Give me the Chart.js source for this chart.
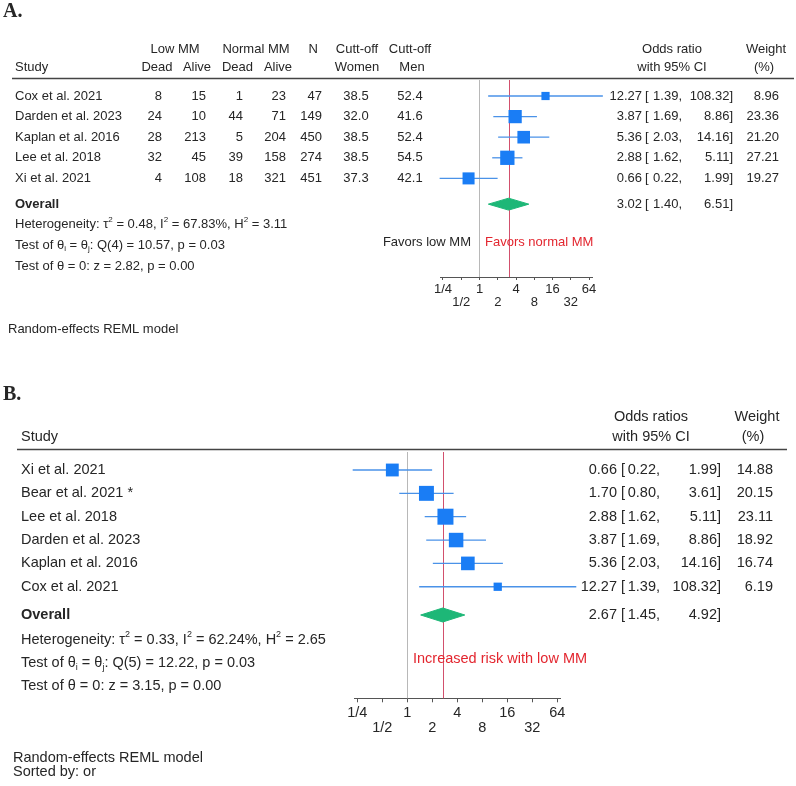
<!DOCTYPE html>
<html>
<head>
<meta charset="utf-8">
<script src="https://cdn.jsdelivr.net/npm/chart.js@4.4.1/dist/chart.umd.min.js"></script>
<style>
  html, body { margin: 0; padding: 0; background: #fff; }
  canvas { display: block; }
</style>
</head>
<body>
<canvas id="chartA" width="796" height="350"></canvas>
<canvas id="chartB" width="796" height="436"></canvas>
<script>
// ---- panel A data ----
const studiesA = ["Cox et al. 2021", "Darden et al. 2023", "Kaplan et al. 2016", "Lee et al. 2018", "Xi et al. 2021"];
const lowDeadA = [8, 24, 28, 32, 4];
const lowAliveA = [15, 10, 213, 45, 108];
const normDeadA = [1, 44, 5, 39, 18];
const normAliveA = [23, 71, 204, 158, 321];
const totalA = [47, 149, 450, 274, 451];
const cutWomenA = ["38.5", "32.0", "38.5", "38.5", "37.3"];
const cutMenA = ["52.4", "41.6", "52.4", "54.5", "42.1"];
const orA = [12.27, 3.87, 5.36, 2.88, 0.66];
const loA = [1.39, 1.69, 2.03, 1.62, 0.22];
const hiA = [108.32, 8.86, 14.16, 5.11, 1.99];
const weightA = [8.96, 23.36, 21.20, 27.21, 19.27];
const overallA = [3.02, 1.40, 6.51];
const hetA = [0.48, 67.83, 3.11];
const qTestA = [4, 10.57, 0.03];
const zTestA = [2.82, 0.00];

// ---- panel B data ----
const studiesB = ["Xi et al. 2021", "Bear et al. 2021 *", "Lee et al. 2018", "Darden et al. 2023", "Kaplan et al. 2016", "Cox et al. 2021"];
const orB = [0.66, 1.70, 2.88, 3.87, 5.36, 12.27];
const loB = [0.22, 0.80, 1.62, 1.69, 2.03, 1.39];
const hiB = [1.99, 3.61, 5.11, 8.86, 14.16, 108.32];
const weightB = [14.88, 20.15, 23.11, 18.92, 16.74, 6.19];
const overallB = [2.67, 1.45, 4.92];
const hetB = [0.33, 62.24, 2.65];
const qTestB = [5, 12.22, 0.03];
const zTestB = [3.15, 0.00];

// shared axis (log2 units)
const tickValues = [-2, -1, 0, 1, 2, 3, 4, 5, 6];
const tickLabels = ["1/4", "1/2", "1", "2", "4", "8", "16", "32", "64"];

const FONT = '"Liberation Sans", Arial, sans-serif';
const TEXT = "#262626";
const BLUE = "#1a7df5";
const CI_BLUE = "#4a92e8";
const GREEN = "#1db777";
const RED_LINE = "#d2506d";
const RED_TEXT = "#e3262f";
const GREY_LINE = "#b8b8b8";
const AXIS = "#555";


function put(ctx, s, x, y, align, font, color) {
    ctx.font = font;
    ctx.fillStyle = color || TEXT;
    ctx.textAlign = align;
    ctx.textBaseline = "middle";
    ctx.fillText(s, x, y);
}


// text with small super/subscripts, left aligned
function rich(ctx, parts, x, y, size) {
    ctx.fillStyle = TEXT;
    ctx.textAlign = "left";
    ctx.textBaseline = "middle";
    let cx = x;
    parts.forEach(p => {
        let s = p, dy = 0, sz = size;
        if (Array.isArray(p)) {
            s = p[0];
            sz = size * 0.62;
            dy = p[1] === "sup" ? -size * 0.38 : size * 0.28;
        }
        ctx.font = sz + "px " + FONT;
        ctx.fillText(s, cx, y + dy);
        cx += ctx.measureText(s).width;
    });
}


function statLines(het, q, z) {
    return [
        ["Heterogeneity: \u03c4", ["2", "sup"], " = " + het[0].toFixed(2) + ", I", ["2", "sup"],
            " = " + het[1].toFixed(2) + "%, H", ["2", "sup"], " = " + het[2].toFixed(2)],
        ["Test of \u03b8", ["i", "sub"], " = \u03b8", ["j", "sub"],
            ": Q(" + q[0] + ") = " + q[1].toFixed(2) + ", p = " + q[2].toFixed(2)],
        ["Test of \u03b8 = 0: z = " + z[0].toFixed(2) + ", p = " + z[1].toFixed(2)]
    ];
}


function forestChart(id, o) {
    const log2 = Math.log2;
    const markers = {
        type: "scatter",
        data: o.or.map((v, i) => ({ x: log2(v), y: i })),
        pointStyle: "rect",
        pointRadius: o.weight.map(w => o.boxScale * Math.sqrt(w) / Math.SQRT2),
        backgroundColor: BLUE,
        pointBorderWidth: 0,
        clip: false,
        order: 0
    };
    const ciLines = o.lo.map((l, i) => ({
        type: "line",
        data: [{ x: log2(l), y: i }, { x: log2(o.hi[i]), y: i }],
        borderColor: CI_BLUE,
        borderWidth: 1.3,
        pointRadius: 0,
        fill: false,
        clip: false,
        order: 2
    }));
    const [est, lo, hi] = o.overall;
    const r = o.overallRow, h = o.diamondHalf;
    const diamond = {
        type: "line",
        data: [
            { x: log2(lo), y: r }, { x: log2(est), y: r - h },
            { x: log2(hi), y: r }, { x: log2(est), y: r + h }, { x: log2(lo), y: r }
        ],
        fill: "shape",
        backgroundColor: GREEN,
        borderColor: GREEN,
        borderWidth: 1,
        pointRadius: 0,
        clip: false,
        order: 1
    };

    const refLines = {
        id: "refLines" + id,
        beforeDatasetsDraw(chart) {
            const ctx = chart.ctx;
            const xs = chart.scales.x;
            const area = chart.chartArea;
            const draw = (v, color) => {
                const px = Math.round(xs.getPixelForValue(v)) + 0.5;
                ctx.save();
                ctx.strokeStyle = color;
                ctx.lineWidth = 1;
                ctx.beginPath();
                ctx.moveTo(px, area.top);
                ctx.lineTo(px, area.bottom);
                ctx.stroke();
                ctx.restore();
            };
            draw(0, GREY_LINE);
            draw(log2(est), RED_LINE);
        }
    };

    const table = {
        id: "table" + id,
        afterDraw(chart) {
            const ctx = chart.ctx;
            ctx.save();
            o.drawTable(ctx, v => chart.scales.y.getPixelForValue(v));
            ctx.restore();
        }
    };

    return new Chart(document.getElementById(id), {
        type: "scatter",
        data: { datasets: [markers, diamond, ...ciLines] },
        options: {
            responsive: false,
            animation: false,
            events: [],
            layout: { padding: o.padding },
            plugins: { legend: { display: false }, tooltip: { enabled: false } },
            scales: {
                x: {
                    type: "linear",
                    min: o.xMin,
                    max: o.xMax,
                    afterBuildTicks: s => { s.ticks = tickValues.map(v => ({ value: v })); },
                    afterFit: s => { s.height = o.axisHeight; },
                    grid: { drawOnChartArea: false, drawTicks: true, tickLength: o.tickLength, color: AXIS },
                    border: { color: AXIS, width: 1 },
                    ticks: {
                        autoSkip: false,
                        maxRotation: 0,
                        padding: o.tickPadding,
                        color: TEXT,
                        font: { family: FONT, size: o.size, lineHeight: 1 },
                        callback: v => {
                            const i = tickValues.indexOf(v);
                            if (i < 0) return "";
                            return i % 2 === 0 ? tickLabels[i] : ["", tickLabels[i]];
                        }
                    }
                },
                y: { type: "linear", display: false, reverse: true, min: o.yMin, max: o.yMax }
            }
        },
        plugins: [refLines, table]
    });
}


function ciText(ctx, y, or, lo, hi, cols, font) {
    put(ctx, or.toFixed(2), cols[0], y, "right", font);
    put(ctx, "[", cols[1], y, "left", font);
    put(ctx, lo.toFixed(2) + ",", cols[2], y, "right", font);
    put(ctx, hi.toFixed(2) + "]", cols[3], y, "right", font);
}


// ---- panel A ----
forestChart("chartA", {
    or: orA, lo: loA, hi: hiA, weight: weightA, overall: overallA,
    boxScale: 2.74, overallRow: 5.25, diamondHalf: 0.29,
    size: 13, xMin: -2.164, xMax: 6.164,
    yMin: (80 - 96) / 20.6, yMax: (277 - 96) / 20.6,
    padding: { left: 440, right: 204, top: 80, bottom: 33 },
    axisHeight: 40, tickLength: 3, tickPadding: 2.5,
    drawTable(ctx, rowY) {
        const f = "13px " + FONT;
        put(ctx, "A.", 3, 12, "left", "bold 20px \"Liberation Serif\", serif");
        // headers
        put(ctx, "Low MM", 175, 49, "center", f);
        put(ctx, "Normal MM", 256, 49, "center", f);
        put(ctx, "N", 318, 49, "right", f);
        put(ctx, "Cutt-off", 357, 49, "center", f);
        put(ctx, "Cutt-off", 410, 49, "center", f);
        put(ctx, "Odds ratio", 672, 49, "center", f);
        put(ctx, "Weight", 766, 49, "center", f);
        put(ctx, "Study", 15, 67, "left", f);
        put(ctx, "Dead", 157, 67, "center", f);
        put(ctx, "Alive", 197, 67, "center", f);
        put(ctx, "Dead", 237.5, 67, "center", f);
        put(ctx, "Alive", 278, 67, "center", f);
        put(ctx, "Women", 357, 67, "center", f);
        put(ctx, "Men", 412, 67, "center", f);
        put(ctx, "with 95% CI", 672, 67, "center", f);
        put(ctx, "(%)", 764, 67, "center", f);
        ctx.strokeStyle = "#444";
        ctx.lineWidth = 1.5;
        ctx.beginPath();
        ctx.moveTo(12, 78.5);
        ctx.lineTo(794, 78.5);
        ctx.stroke();
        // study rows
        studiesA.forEach((s, i) => {
            const y = rowY(i);
            put(ctx, s, 15, y, "left", f);
            put(ctx, String(lowDeadA[i]), 162, y, "right", f);
            put(ctx, String(lowAliveA[i]), 206, y, "right", f);
            put(ctx, String(normDeadA[i]), 243, y, "right", f);
            put(ctx, String(normAliveA[i]), 286, y, "right", f);
            put(ctx, String(totalA[i]), 322, y, "right", f);
            put(ctx, cutWomenA[i], 356, y, "center", f);
            put(ctx, cutMenA[i], 410, y, "center", f);
            ciText(ctx, y, orA[i], loA[i], hiA[i], [642, 645, 682, 733], f);
            put(ctx, weightA[i].toFixed(2), 779, y, "right", f);
        });
        const yo = rowY(5.25);
        put(ctx, "Overall", 15, yo, "left", "bold 13px " + FONT);
        ciText(ctx, yo, overallA[0], overallA[1], overallA[2], [642, 645, 682, 733], f);
        const lines = statLines(hetA, qTestA, zTestA);
        [6.23, 7.23, 8.25].forEach((r, k) => rich(ctx, lines[k], 15, rowY(r), 13));
        put(ctx, "Favors low MM", 471, 242, "right", f);
        put(ctx, "Favors normal MM", 485, 242, "left", f, RED_TEXT);
        put(ctx, "Random-effects REML model", 8, 329, "left", f);
    }
});


// ---- panel B ----
forestChart("chartB", {
    or: orB, lo: loB, hi: hiB, weight: weightB, overall: overallB,
    boxScale: 3.33, overallRow: 6.21, diamondHalf: 0.3,
    size: 14.5, xMin: -2.132, xMax: 6.132,
    yMin: (102 - 120) / 23.35, yMax: (348.3 - 120) / 23.35,
    padding: { left: 354, right: 235.4, top: 102, bottom: 42.7 },
    axisHeight: 45, tickLength: 4, tickPadding: 3.5,
    drawTable(ctx, rowY) {
        const f = "14.5px " + FONT;
        put(ctx, "B.", 3, 45, "left", "bold 20px \"Liberation Serif\", serif");
        put(ctx, "Odds ratios", 651, 66.7, "center", f);
        put(ctx, "Weight", 757, 66.7, "center", f);
        put(ctx, "Study", 21, 87.3, "left", f);
        put(ctx, "with 95% CI", 651, 86.7, "center", f);
        put(ctx, "(%)", 753, 86.7, "center", f);
        ctx.strokeStyle = "#444";
        ctx.lineWidth = 1.5;
        ctx.beginPath();
        ctx.moveTo(17, 99.5);
        ctx.lineTo(787, 99.5);
        ctx.stroke();
        studiesB.forEach((s, i) => {
            const y = rowY(i);
            put(ctx, s, 21, y, "left", f);
            ciText(ctx, y, orB[i], loB[i], hiB[i], [617, 621, 660, 721], f);
            put(ctx, weightB[i].toFixed(2), 773, y, "right", f);
        });
        const yo = rowY(6.21);
        put(ctx, "Overall", 21, yo, "left", "bold 14.5px " + FONT);
        ciText(ctx, yo, overallB[0], overallB[1], overallB[2], [617, 621, 660, 721], f);
        const lines = statLines(hetB, qTestB, zTestB);
        [7.28, 8.27, 9.25].forEach((r, k) => rich(ctx, lines[k], 21, rowY(r), 14.5));
        put(ctx, "Increased risk with low MM", 413, 309.3, "left", f, RED_TEXT);
        put(ctx, "Random-effects REML model", 13, 408, "left", f);
        put(ctx, "Sorted by: or", 13, 422, "left", f);
    }
});
</script>
</body>
</html>
